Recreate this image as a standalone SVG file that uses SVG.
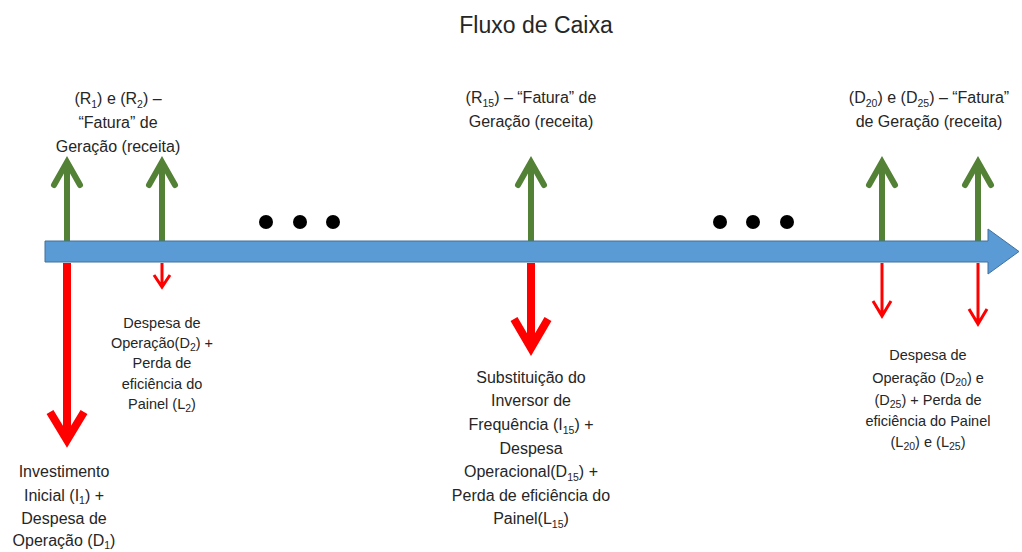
<svg xmlns="http://www.w3.org/2000/svg" width="1022" height="552" viewBox="0 0 1022 552">
<style>
text{font-family:"Liberation Sans",Arial,sans-serif;fill:#262626;text-anchor:middle}
.t{font-size:23px}
.l{font-size:16px}
.s{font-size:14.5px}
.sub{font-size:10.5px}
.g{stroke:#538135;stroke-width:6;fill:none;stroke-linecap:round;stroke-linejoin:miter}
.rb{stroke:#FF0000;stroke-width:8;fill:none;stroke-linecap:butt;stroke-linejoin:miter}
.rs{stroke:#FF0000;stroke-width:3;fill:none;stroke-linejoin:miter}
</style>
<rect width="1022" height="552" fill="#fff"/>
<text class="t" x="536" y="33">Fluxo de Caixa</text>

<g id="connectors">
<path class="g" d="M67,241V163M54,185L67,162L80,185"/>
<path class="g" d="M162,241V163M149,185L162,162L175,185"/>
<path class="g" d="M531,241V163M518,185L531,162L544,185"/>
<path class="g" d="M882,241V163M869,185L882,162L895,185"/>
<path class="g" d="M978,241V163M965,185L978,162L991,185"/>
</g>

<g id="timeline">
<polygon points="45,241 988,241 988,229 1019,251.5 988,274 988,262 45,262" fill="#5B9BD5" stroke="#41719C" stroke-width="1"/>
</g>

<g id="dots" fill="#000">
<circle cx="266" cy="222" r="7"/><circle cx="300" cy="222" r="7"/><circle cx="333" cy="222" r="7"/>
<circle cx="720" cy="222" r="7"/><circle cx="753" cy="222" r="7"/><circle cx="787" cy="222" r="7"/>
</g>

<g id="connectors-down">
<path class="rb" d="M67,263V438M50,412L67,440L84,412"/>
<path class="rb" d="M531,263V348M514,319L531,348L548,319"/>
<path class="rs" d="M162,263V286M154,275L162,287L170,275"/>
<path class="rs" d="M882,263V315M873,301L882,316L891,301"/>
<path class="rs" d="M978,263V323M969,309L978,324L987,309"/>
</g>

<g id="label-r1r2">
<text class="l" x="118" y="104">(R<tspan class="sub" dy="4">1</tspan><tspan dy="-4">) e (R</tspan><tspan class="sub" dy="4">2</tspan><tspan dy="-4">) –</tspan></text>
<text class="l" x="118" y="128">“Fatura” de</text>
<text class="l" x="118" y="152">Geração (receita)</text>
</g>

<g id="label-r15">
<text class="l" x="531" y="103">(R<tspan class="sub" dy="4">15</tspan><tspan dy="-4">) – “Fatura” de</tspan></text>
<text class="l" x="531" y="127">Geração (receita)</text>
</g>

<g id="label-d20">
<text class="l" x="929" y="103">(D<tspan class="sub" dy="4">20</tspan><tspan dy="-4">) e (D</tspan><tspan class="sub" dy="4">25</tspan><tspan dy="-4">) – “Fatura”</tspan></text>
<text class="l" x="929" y="127">de Geração (receita)</text>
</g>

<g id="label-d2">
<text class="s" x="162" y="328">Despesa de</text>
<text class="s" x="162" y="348">Operação(D<tspan class="sub" dy="3">2</tspan><tspan dy="-3">) +</tspan></text>
<text class="s" x="162" y="368">Perda de</text>
<text class="s" x="162" y="389">eficiência do</text>
<text class="s" x="162" y="409">Painel (L<tspan class="sub" dy="3">2</tspan><tspan dy="-3">)</tspan></text>
</g>

<g id="label-i1">
<text class="l" x="64" y="477">Investimento</text>
<text class="l" x="64" y="501">Inicial (I<tspan class="sub" dy="3">1</tspan><tspan dy="-3">) +</tspan></text>
<text class="l" x="64" y="524">Despesa de</text>
<text class="l" x="64" y="546">Operação (D<tspan class="sub" dy="3">1</tspan><tspan dy="-3">)</tspan></text>
</g>

<g id="label-i15">
<text class="l" x="531" y="383">Substituição do</text>
<text class="l" x="531" y="406">Inversor de</text>
<text class="l" x="531" y="430">Frequência (I<tspan class="sub" dy="4">15</tspan><tspan dy="-4">) +</tspan></text>
<text class="l" x="531" y="454">Despesa</text>
<text class="l" x="531" y="477">Operacional(D<tspan class="sub" dy="4">15</tspan><tspan dy="-4">) +</tspan></text>
<text class="l" x="531" y="501">Perda de eficiência do</text>
<text class="l" x="531" y="524">Painel(L<tspan class="sub" dy="4">15</tspan><tspan dy="-4">)</tspan></text>
</g>

<g id="label-d20d25">
<text class="s" x="928" y="360">Despesa de</text>
<text class="s" x="928" y="383">Operação (D<tspan class="sub" dy="3">20</tspan><tspan dy="-3">) e</tspan></text>
<text class="s" x="928" y="405">(D<tspan class="sub" dy="3">25</tspan><tspan dy="-3">)  + Perda de</tspan></text>
<text class="s" x="928" y="426">eficiência do Painel</text>
<text class="s" x="928" y="447">(L<tspan class="sub" dy="3">20</tspan><tspan dy="-3">) e (L</tspan><tspan class="sub" dy="3">25</tspan><tspan dy="-3">)</tspan></text>
</g>
</svg>
